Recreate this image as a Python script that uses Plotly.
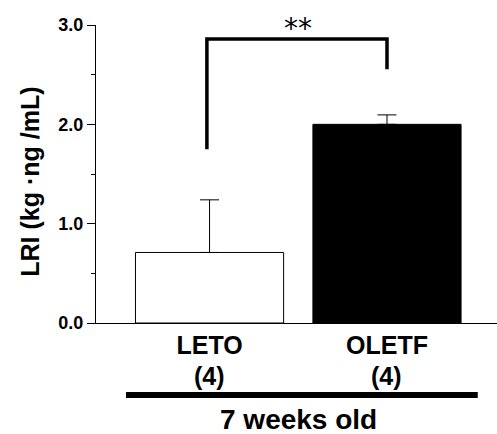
import plotly.graph_objects as go

groups = ["LETO", "OLETF"]
n_labels = ["(4)", "(4)"]
means = [0.71, 2.00]
sem = [0.53, 0.095]
bar_colors = ["white", "black"]
y_ticks = [0, 1, 2, 3]
y_ticktext = ["0.0", "1.0", "2.0", "3.0"]
sig_label = "**"
group_caption = "7 weeks old"
y_title = "LRI (kg ·ng /mL)"

FONT = "Liberation Sans, Arial, Helvetica, sans-serif"

fig = go.Figure()
fig.add_trace(go.Bar(
    x=[0, 1], y=means, width=0.835,
    marker=dict(color=bar_colors, line=dict(color="black", width=1)),
    error_y=dict(type="data", array=sem, arrayminus=[0, 0], symmetric=False,
                 color="black", thickness=1, width=9.5),
    showlegend=False,
))

# significance bracket
fig.add_trace(go.Scatter(
    x=[-0.015, -0.015, 1, 1], y=[1.75, 2.86, 2.86, 2.555],
    mode="lines", line=dict(color="black", width=3.5),
    showlegend=False, cliponaxis=False, hoverinfo="skip",
))

fig.update_layout(
    width=497, height=434,
    margin=dict(l=96, r=0, t=25, b=111),
    plot_bgcolor="white", paper_bgcolor="white",
    font=dict(family=FONT, color="black"),
    bargap=0.165,
)
fig.update_xaxes(
    range=[-0.64, 1.62], showline=True, linecolor="black", linewidth=1,
    tickmode="array", tickvals=[0, 1], ticktext=groups, ticks="",
    tickfont=dict(family=FONT, size=25, weight="bold", color="black"),
    showgrid=False, zeroline=False,
)
fig.update_yaxes(
    range=[0, 3], showline=True, linecolor="black", linewidth=1,
    tickmode="array", tickvals=y_ticks, ticktext=y_ticktext,
    ticks="outside", ticklen=8, tickwidth=1, tickcolor="black",
    minor=dict(tickmode="array", tickvals=[0.5, 1.5, 2.5], ticks="outside",
               ticklen=4, tickwidth=1, tickcolor="black"),
    tickfont=dict(family=FONT, size=18, weight="bold", color="black"),
    showgrid=False, zeroline=False,
)

# n labels
for i, t in enumerate(n_labels):
    fig.add_annotation(x=i, xref="x", y=-0.178, yref="paper", text=t,
                       showarrow=False, yanchor="middle",
                       font=dict(family=FONT, size=25, weight="bold", color="black"))

fig.add_annotation(x=0.5, xref="x", y=2.86, yref="y", text=sig_label,
                   showarrow=False, yanchor="middle", yshift=10,
                   font=dict(family="DejaVu Sans", size=28, color="black"))

fig.add_shape(type="line", xref="paper", yref="paper",
              x0=0.0748, x1=0.952, y0=-0.2416, y1=-0.2416,
              line=dict(color="black", width=6))

fig.add_annotation(x=0.5, xref="x", y=-0.325, yref="paper", text=group_caption,
                   showarrow=False, yanchor="middle", borderpad=0,
                   font=dict(family=FONT, size=28, weight="bold", color="black"))

fig.add_annotation(x=-0.1646, xref="paper", y=0.474, yref="paper", text=y_title,
                   showarrow=False, textangle=-90, xanchor="center", yanchor="middle",
                   font=dict(family=FONT, size=25, weight="bold", color="black"))

fig.write_html("out.html", config={"displayModeBar": False},
               post_script="document.body.style.margin='0';document.body.style.padding='0';")
